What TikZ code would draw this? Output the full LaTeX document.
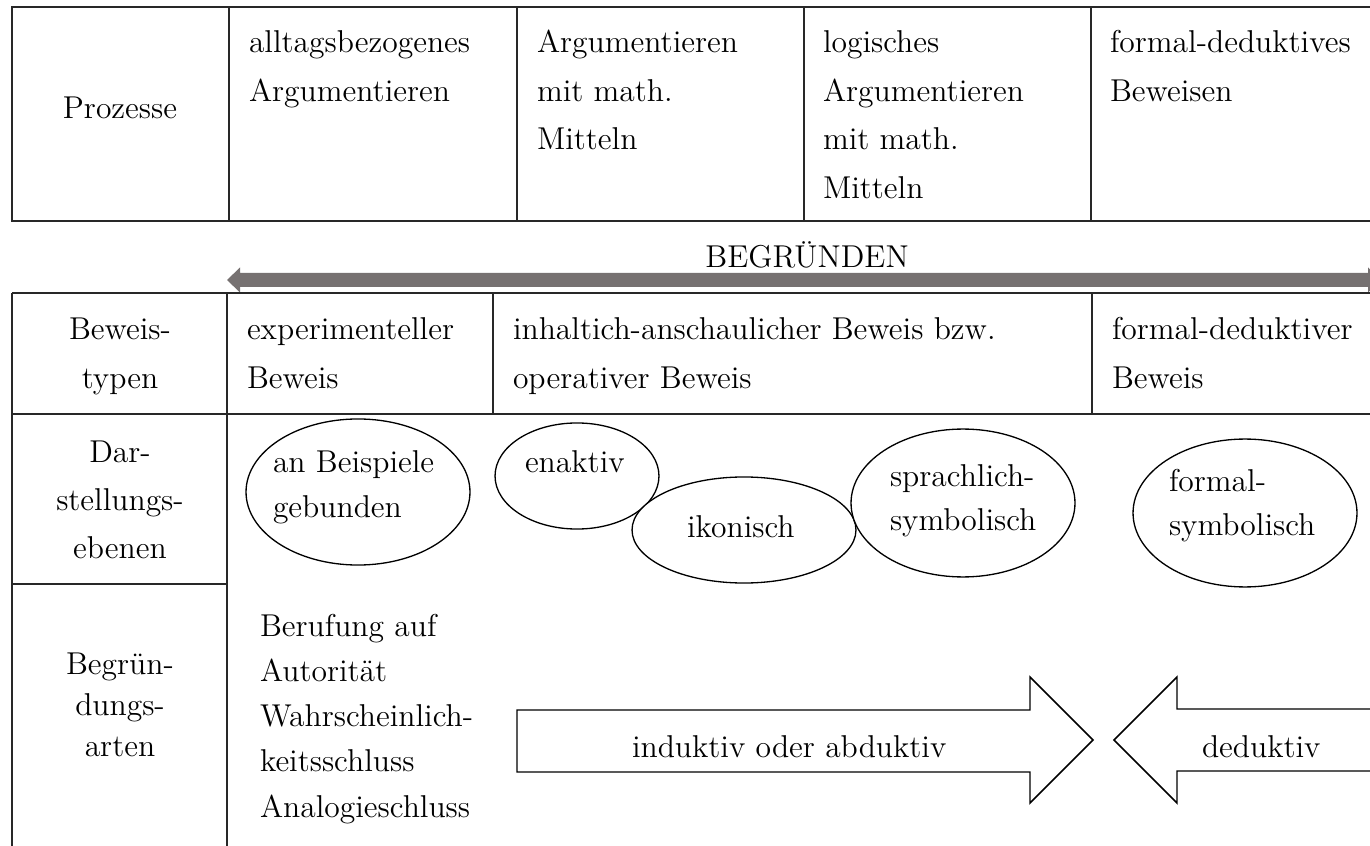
\documentclass[tikz,border=0pt]{standalone}
\usetikzlibrary{shapes.geometric}

\definecolor{arrowgray}{RGB}{118,113,113}
\definecolor{rulecolor}{RGB}{40,40,40}

% multi-line cell text, baseline of the node = baseline of the first line
\newcommand{\leftcell}[2]{\parbox[t]{80mm}{\raggedright\fontsize{12}{#1}\selectfont #2\par}}
\newcommand{\ctrcell}[2]{\parbox[t]{40mm}{\centering\fontsize{12}{#1}\selectfont #2\par}}

\tikzset{
  every node/.style={inner sep=0pt, outer sep=0pt},
  rule/.style={draw=rulecolor, line width=0.55pt},
  txt/.style={anchor=base west, font=\fontsize{12}{14}\selectfont},
  ctr/.style={anchor=base, font=\fontsize{12}{14}\selectfont},
  ell/.style={draw=black, line width=0.5pt, ellipse, inner sep=0pt},
  blockarrow/.style={draw=black, line width=0.55pt, fill=white, line join=miter},
  bigarrow/.style={fill=arrowgray, draw=none}
}

\begin{document}
\begin{tikzpicture}[x=0.38pt, y=-0.38pt]
  \clip (0,0) rectangle (1370,846);
  \fill[white] (0,0) rectangle (1370,846);

  % ---------- upper table: Prozesse ----------
  \draw[rule] (1380,7) -- (12,7) -- (12,221) -- (1380,221);
  \foreach \x in {229,517,804,1091} \draw[rule] (\x,7) -- (\x,221);

  \node[ctr] (proz) at (120,119) {Prozesse};
  \node[txt] (p1) at (249,53) {\leftcell{18.4pt}{alltagsbezogenes\\Argumentieren}};
  \node[txt] (p2) at (537,53) {\leftcell{18.4pt}{Argumentieren\\mit math.\\Mitteln}};
  \node[txt] (p3) at (823,53) {\leftcell{18.4pt}{logisches\\Argumentieren\\mit math.\\Mitteln}};
  \node[txt] (p4) at (1110,53) {\leftcell{18.4pt}{formal-deduktives\\Beweisen}};

  % ---------- BEGRUENDEN arrow ----------
  \coordinate (gl) at (227,280);
  \coordinate (gr) at (1381,280);
  \fill[bigarrow] (gl) -- ++(13,-12.5) -- ++(0,5.5) -- (1368,273) -- ++(0,-5.5)
        -- (gr) -- (1368,292.5) -- ++(0,-5.5) -- (240,287) -- ++(0,5.5) -- cycle;
  \node[ctr] (begr) at (807,268) {BEGRÜNDEN};

  % ---------- lower table ----------
  \draw[rule] (12,293) -- (1380,293);
  \draw[rule] (12,414) -- (1380,414);
  \draw[rule] (12,584) -- (227,584);
  \draw[rule] (12,293) -- (12,850);
  \draw[rule] (227,293) -- (227,850);
  \draw[rule] (493,293) -- (493,414);
  \draw[rule] (1092,293) -- (1092,414);

  % row headers
  \node[ctr] (h1) at (120,340) {\ctrcell{18.4pt}{Beweis-\\typen}};
  \node[ctr] (h2) at (120,462) {\ctrcell{18.4pt}{Dar-\\stellungs-\\ebenen}};
  \node[ctr] (h3) at (120,674) {\ctrcell{15.6pt}{Begrün-\\dungs-\\arten}};

  % proof types
  \node[txt] (b1) at (247,340) {\leftcell{18.4pt}{experimenteller\\Beweis}};
  \node[txt] (b2) at (513,340) {\leftcell{18.4pt}{inhaltich-anschaulicher Beweis bzw.\\operativer Beweis}};
  \node[txt] (b3) at (1112,340) {\leftcell{18.4pt}{formal-deduktiver\\Beweis}};

  % levels of representation
  \node[ell, minimum width=85.1pt, minimum height=55.5pt] (e1) at (358,492) {};
  \node[ell, minimum width=62.3pt, minimum height=40.3pt] (e2) at (577,476) {};
  \node[ell, minimum width=85.1pt, minimum height=40.3pt, fill=white] (e3) at (744,530) {};
  \node[ell, minimum width=85.1pt, minimum height=56.2pt, fill=white] (e4) at (963,503) {};
  \node[ell, minimum width=85.1pt, minimum height=56.2pt] (e5) at (1245,513) {};

  \node[txt] (t1) at (273,473) {\leftcell{17.1pt}{an Beispiele\\gebunden}};
  \node[txt] (t2) at (525,473) {enaktiv};
  \node[txt] (t3) at (687,538) {ikonisch};
  \node[txt] (t4) at (890,486) {\leftcell{16.8pt}{sprachlich-\\symbolisch}};
  \node[txt] (t5) at (1169,491) {\leftcell{16.8pt}{formal-\\symbolisch}};

  % kinds of reasoning
  \node[txt] (r1) at (260,636) {\leftcell{17.2pt}{Berufung auf\\Autorität\\Wahrscheinlich-\\keitsschluss\\Analogieschluss}};

  \draw[blockarrow] (517,710) -- (1030,710) -- (1030,677) -- (1093,740)
        -- (1030,803) -- (1030,772) -- (517,772) -- cycle;
  \node[txt] (ind) at (632,757) {induktiv oder abduktiv};

  \draw[blockarrow] (1385,709) -- (1177,709) -- (1177,677) -- (1114,740)
        -- (1177,803) -- (1177,771) -- (1385,771);
  \node[txt] (ded) at (1202,757) {deduktiv};
\end{tikzpicture}
\end{document}
